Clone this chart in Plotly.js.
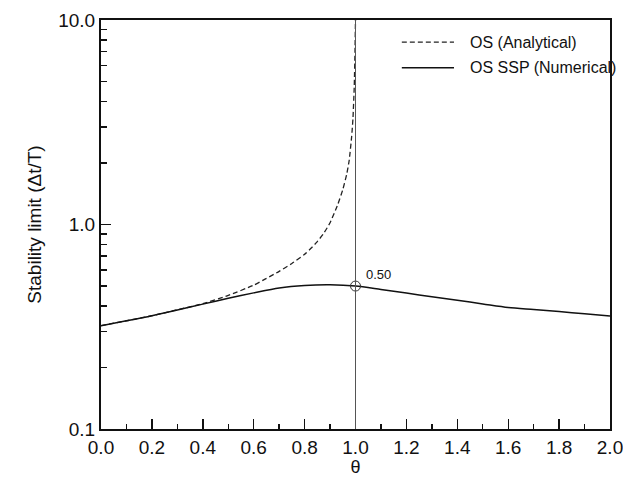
<!DOCTYPE html>
<html>
<head>
<meta charset="utf-8">
<script src="https://cdn.plot.ly/plotly-3.0.1.min.js"></script>
<style>html,body{margin:0;padding:0;background:#fff;}#chart{width:623px;height:477px;}</style>
</head>
<body>
<div id="chart"></div>
<script>
// Analytical curve (dashed)
const thetaAnalytical = [0, 0.1, 0.2, 0.3, 0.4, 0.5, 0.6, 0.65, 0.7, 0.75, 0.8, 0.825, 0.85, 0.875, 0.9, 0.93, 0.95, 0.965, 0.975, 0.985, 0.99, 0.995, 0.998, 1.0];
const limitAnalytical = [0.32, 0.338, 0.358, 0.383, 0.41, 0.45, 0.505, 0.545, 0.59, 0.645, 0.715, 0.765, 0.825, 0.905, 1.02, 1.25, 1.48, 1.75, 2.05, 2.7, 3.3, 4.7, 7.0, 10.0];
// Numerical curve (solid)
const thetaNumerical = [0, 0.1, 0.2, 0.3, 0.4, 0.5, 0.6, 0.7, 0.8, 0.9, 1.0, 1.1, 1.2, 1.3, 1.4, 1.5, 1.6, 1.7, 1.8, 1.9, 2.0];
const limitNumerical = [0.320, 0.338, 0.358, 0.382, 0.408, 0.436, 0.463, 0.489, 0.503, 0.507, 0.500, 0.481, 0.462, 0.443, 0.426, 0.409, 0.393, 0.384, 0.375, 0.366, 0.357];
// Marked point
const markTheta = [1.0];
const markValue = [0.5];
const markLabel = ['0.50'];
// Legend labels
const seriesNames = ['OS (Analytical)', 'OS SSP (Numerical)'];
// Tick labels
const xTickVals = [0, 0.2, 0.4, 0.6, 0.8, 1.0, 1.2, 1.4, 1.6, 1.8, 2.0];
const xTickText = ['0.0', '0.2', '0.4', '0.6', '0.8', '1.0', '1.2', '1.4', '1.6', '1.8', '2.0'];
const xMinorStep = 0.1;
const yTickFormat = '.1f';

const font = 'Liberation Sans, Arial, sans-serif';
const ink = '#111';

const traces = [
  {x: thetaAnalytical, y: limitAnalytical, mode: 'lines', name: seriesNames[0], showlegend: false,
   line: {color: '#222', width: 1.3, dash: '5px,3px', shape: 'spline', smoothing: 0.5}},
  {x: thetaNumerical, y: limitNumerical, mode: 'lines', name: seriesNames[1], showlegend: false,
   line: {color: ink, width: 1.5, shape: 'spline', smoothing: 0.8}},
  {x: markTheta, y: markValue, mode: 'markers', showlegend: false,
   marker: {symbol: 'circle-open', size: 10, color: '#333', line: {width: 1}}}
];

const legY = [0.946, 0.883];
const shapes = [
  {type: 'line', xref: 'x', yref: 'paper', x0: 1.0, x1: 1.0, y0: 0, y1: 1, line: {color: '#555', width: 1}},
  {type: 'line', xref: 'paper', yref: 'paper', x0: 0.591, x1: 0.6935, y0: legY[0], y1: legY[0], line: {color: '#222', width: 1.3, dash: '5px,3px'}},
  {type: 'line', xref: 'paper', yref: 'paper', x0: 0.591, x1: 0.6935, y0: legY[1], y1: legY[1], line: {color: ink, width: 1.5}}
];
const annotations = [
  {x: markTheta[0], y: Math.log10(markValue[0]), xref: 'x', yref: 'y', text: markLabel[0], showarrow: false,
   xanchor: 'left', yanchor: 'middle', xshift: 8, yshift: 12, font: {family: font, size: 13, color: ink}},
  {x: 0.721, y: legY[0], xref: 'paper', yref: 'paper', text: seriesNames[0], showarrow: false,
   xanchor: 'left', yanchor: 'middle', font: {family: font, size: 16, color: ink}},
  {x: 0.721, y: legY[1], xref: 'paper', yref: 'paper', text: seriesNames[1], showarrow: false,
   xanchor: 'left', yanchor: 'middle', font: {family: font, size: 16, color: ink}}
];

const layout = {
  width: 623, height: 477,
  margin: {l: 101, r: 13, t: 20, b: 48},
  paper_bgcolor: '#fff', plot_bgcolor: '#fff',
  font: {family: font, size: 18, color: ink},
  showlegend: false,
  xaxis: {
    range: [0, 2], tickmode: 'array', tickvals: xTickVals, ticktext: xTickText,
    ticks: 'inside', ticklen: 10, tickwidth: 1.4, tickcolor: ink,
    showline: true, linecolor: ink, linewidth: 2, mirror: true,
    showgrid: false, zeroline: false, ticklabeloverflow: 'allow',
    tickfont: {family: font, size: 19, color: ink},
    minor: {tickmode: 'linear', tick0: 0, dtick: xMinorStep, ticks: 'inside', ticklen: 5, tickwidth: 1.4, tickcolor: ink, showgrid: false},
    title: {text: 'θ', font: {family: font, size: 18, color: ink}, standoff: 2}
  },
  yaxis: {
    type: 'log', range: [-1, 1], tickmode: 'linear', tick0: 0, dtick: 1, tickformat: yTickFormat,
    ticks: 'inside', ticklen: 10, tickwidth: 1.4, tickcolor: ink,
    showline: true, linecolor: ink, linewidth: 2, mirror: true,
    showgrid: false, zeroline: false, ticklabeloverflow: 'allow',
    tickfont: {family: font, size: 19, color: ink},
    minor: {dtick: 'D1', ticks: 'inside', ticklen: 6, tickwidth: 1.4, tickcolor: ink, showgrid: false},
    title: {text: 'Stability limit (Δt/T)', font: {family: font, size: 19, color: ink}, standoff: 12}
  },
  shapes: shapes,
  annotations: annotations
};

Plotly.newPlot('chart', traces, layout, {displayModeBar: false, staticPlot: true});
</script>
</body>
</html>
